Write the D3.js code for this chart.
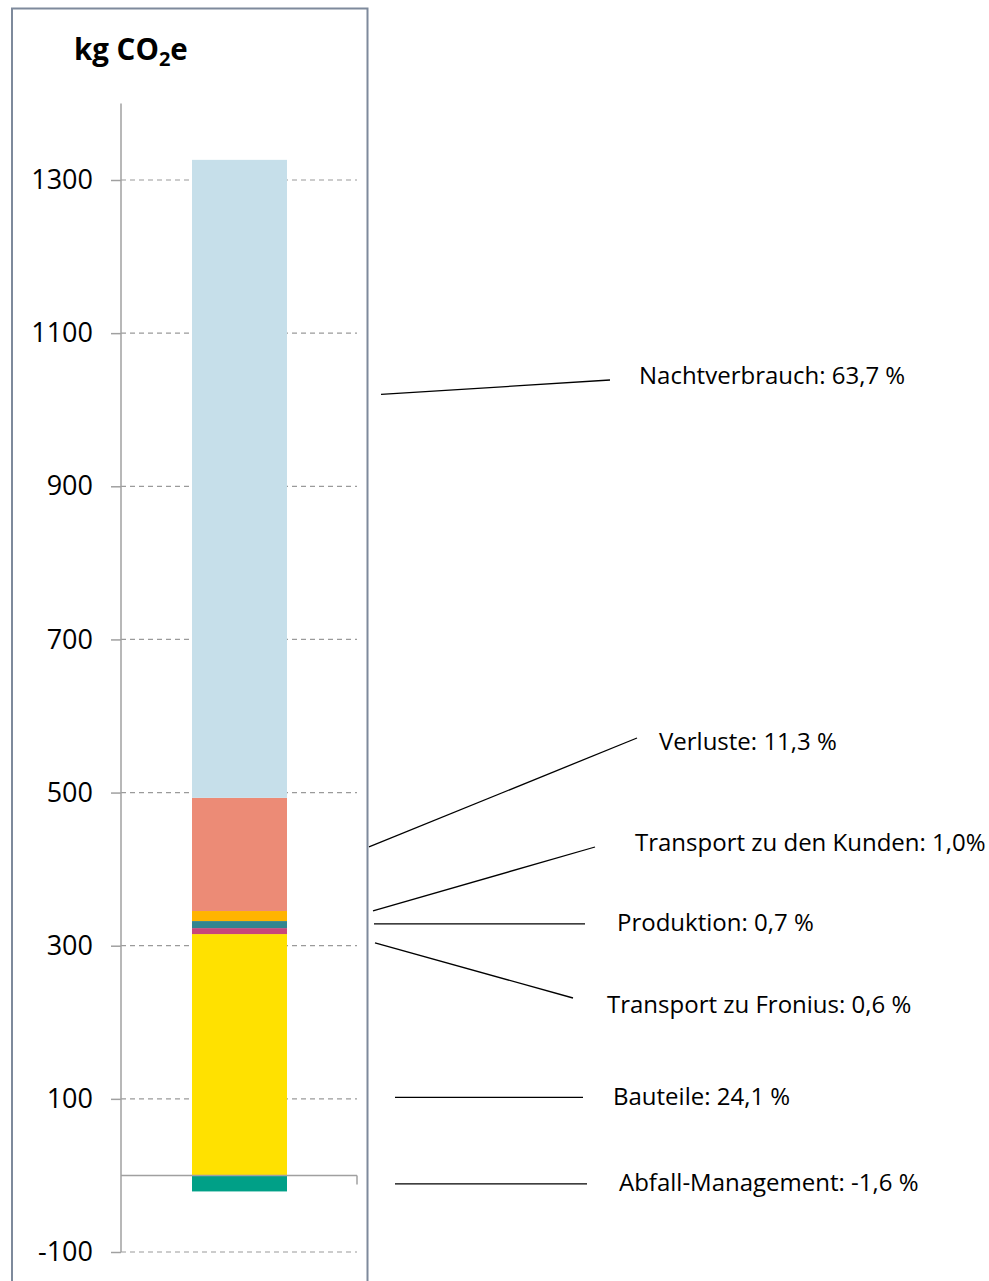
<!DOCTYPE html>
<html>
<head>
<meta charset="utf-8">
<script src="https://cdn.jsdelivr.net/npm/d3@7"></script>
<style>
  html, body { margin: 0; padding: 0; background: #fff; }
  svg { display: block; font-family: "Open Sans", "Noto Sans", sans-serif; }
</style>
</head>
<body>
<svg id="chart" width="989" height="1281"></svg>
<script>
// ---- Data ----
const segments = ["Bauteile", "Transport zu Fronius", "Produktion", "Transport zu den Kunden", "Verluste", "Nachtverbrauch"];
const segmentValues = [315.2, 7.8, 9.2, 13.1, 147.8, 833.2];
const negativeSegments = ["Abfall-Management"];
const negativeValues = [-20.9];
const labelTexts = ["Bauteile: 24,1 %", "Transport zu Fronius: 0,6 %", "Produktion: 0,7 %", "Transport zu den Kunden: 1,0%", "Verluste: 11,3 %", "Nachtverbrauch: 63,7 %"];
const negativeLabelTexts = ["Abfall-Management: -1,6 %"];
const tickValues = [-100, 100, 300, 500, 700, 900, 1100, 1300];
const colors = ["#FFE100", "#C8477A", "#318590", "#FFB400", "#EC8B76", "#C6DFEA"];
const negativeColors = ["#00A087"];

// ---- Layout (label leader anchors in value units, label positions in px) ----
const leaderLayout = [
  { v: 102,  x1: 395, x2: 583, tx: 613, ty: 1097 },
  { v: 303.6, x1: 375, x2: 573, tx: 607, ty: 1005, y2: 998 },
  { v: 328.4, x1: 374, x2: 585, tx: 617, ty: 923 },
  { v: 345.5, x1: 373, x2: 595, tx: 635, ty: 843, y2: 847 },
  { v: 429,  x1: 369, x2: 637, tx: 659, ty: 742, y2: 738 },
  { v: 1020, x1: 381, x2: 610, tx: 639, ty: 376, y2: 380 }
];
const negLeaderLayout = [{ v: -11, x1: 395, x2: 587, tx: 619, ty: 1183 }];

const svg = d3.select("#chart");

const y = d3.scaleLinear().domain([-100, 1300]).range([1252, 180]);
const barX0 = 192, barW = 95;
const xBar = d3.scaleBand().domain(["bar"]).range([barX0, barX0 + barW]);

// Frame
svg.append("path")
  .attr("d", "M12,1285 L12,8.5 L367.5,8.5 L367.5,1285")
  .attr("fill", "none")
  .attr("stroke", "#7E8A9C")
  .attr("stroke-width", 2);

// Title
const title = svg.append("text")
  .attr("x", 74).attr("y", 60)
  .attr("font-size", 29.5).attr("font-weight", "bold").attr("fill", "#000");
title.append("tspan").text("kg CO");
title.append("tspan").text("2").attr("font-size", 20).attr("dy", 6);
title.append("tspan").text("e").attr("dy", -6);

// Gridlines
svg.append("g").selectAll("line")
  .data(tickValues)
  .join("line")
  .attr("x1", 121).attr("x2", 357)
  .attr("y1", d => y(d)).attr("y2", d => y(d))
  .attr("stroke", "#9A9A9A").attr("stroke-width", 1.2)
  .attr("stroke-dasharray", "5,4");

// Y axis
const yAxis = d3.axisLeft(y).tickValues(tickValues).tickSize(10).tickPadding(18).tickFormat(d => String(d));
const gy = svg.append("g").attr("transform", "translate(121,0)").call(yAxis);
gy.select(".domain").remove();
gy.append("line").attr("x1", 0).attr("x2", 0).attr("y1", y(1400)).attr("y2", y(-100))
  .attr("stroke", "#A0A0A0").attr("stroke-width", 1.5);
gy.selectAll(".tick line").attr("stroke", "#A0A0A0").attr("stroke-width", 1.5);
gy.selectAll(".tick text").attr("font-size", 27).attr("fill", "#000")
  .attr("font-family", "'Open Sans', 'Noto Sans', sans-serif");

// Stacked bars
let acc = 0;
const stacked = segmentValues.map((v, i) => { const s = { y0: acc, y1: acc + v, color: colors[i], name: segments[i] }; acc += v; return s; });
svg.append("g").selectAll("rect")
  .data(stacked)
  .join("rect")
  .attr("x", xBar("bar")).attr("width", xBar.bandwidth())
  .attr("y", d => y(d.y1)).attr("height", d => y(d.y0) - y(d.y1))
  .attr("fill", d => d.color);

svg.append("g").selectAll("rect")
  .data(negativeValues.map((v, i) => ({ v, color: negativeColors[i] })))
  .join("rect")
  .attr("x", xBar("bar")).attr("width", xBar.bandwidth())
  .attr("y", y(0)).attr("height", d => y(d.v) - y(0))
  .attr("fill", d => d.color);

// Zero (category) axis
svg.append("line").attr("x1", 121).attr("x2", 357).attr("y1", y(0)).attr("y2", y(0))
  .attr("stroke", "#A0A0A0").attr("stroke-width", 1.5);
svg.append("line").attr("x1", 357).attr("x2", 357).attr("y1", y(0)).attr("y2", y(0) + 9)
  .attr("stroke", "#A0A0A0").attr("stroke-width", 1.5);

// Labels & leaders
const allLabels = leaderLayout.map((l, i) => ({ ...l, text: labelTexts[i] }))
  .concat(negLeaderLayout.map((l, i) => ({ ...l, text: negativeLabelTexts[i] })));
const lg = svg.append("g");
lg.selectAll("line")
  .data(allLabels)
  .join("line")
  .attr("x1", d => d.x1).attr("y1", d => y(d.v))
  .attr("x2", d => d.x2).attr("y2", d => d.y2 !== undefined ? d.y2 : y(d.v))
  .attr("stroke", "#000").attr("stroke-width", 1.3);
lg.selectAll("text")
  .data(allLabels)
  .join("text")
  .attr("x", d => d.tx).attr("y", d => d.ty)
  .attr("dy", "0.35em")
  .attr("font-size", 24).attr("fill", "#000")
  .text(d => d.text);
</script>
</body>
</html>
